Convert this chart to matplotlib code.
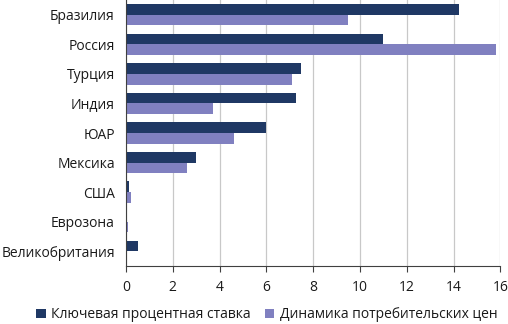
import matplotlib
matplotlib.use('Agg')
import matplotlib.pyplot as plt
import numpy as np

# Данные с графика
countries = ['Бразилия', 'Россия', 'Турция', 'Индия', 'ЮАР', 'Мексика',
             'США', 'Еврозона', 'Великобритания']
key_rate = [14.25, 11.0, 7.5, 7.25, 6.0, 3.0, 0.125, 0.05, 0.5]
cpi = [9.5, 15.8, 7.1, 3.7, 4.6, 2.6, 0.2, 0.1, 0.0]

dark = '#1f3864'
light = '#8080c0'

plt.rcParams['font.family'] = ['Open Sans', 'DejaVu Sans']
plt.rcParams['font.size'] = 10

fig = plt.figure(figsize=(5.08, 3.24), dpi=100)
ax = fig.add_axes([0.248, 0.179, 0.737, 0.821])

y = np.arange(len(countries))
h = 0.36
ax.barh(y - h / 2, key_rate, height=h, color=dark, label='Ключевая процентная ставка')
ax.barh(y + h / 2, cpi, height=h, color=light, label='Динамика потребительских цен')

ax.set_ylim(len(countries) - 0.5, -0.5)
ax.set_xlim(0, 16)
ax.set_xticks(range(0, 17, 2))
ax.set_yticks(y)
ax.set_yticklabels(countries)
ax.tick_params(axis='y', length=0, pad=8, labelsize=10, labelcolor='#1a1a1a')
ax.tick_params(axis='x', length=4, direction='out', color='#404040', labelsize=10,
               pad=6, labelcolor='#1a1a1a')

ax.set_axisbelow(True)
ax.grid(True, axis='x', color='#c8c8c8', linewidth=0.9)
for s in ['top', 'right']:
    ax.spines[s].set_visible(False)
ax.spines['left'].set_color('#404040')
ax.spines['bottom'].set_color('#404040')

fig.legend(loc='center', bbox_to_anchor=(0.525, 0.028), ncol=2, frameon=False,
           handlelength=0.7, handleheight=0.7, handletextpad=0.4, columnspacing=1.0,
           fontsize=10, labelcolor='#1a1a1a')

fig.savefig('out.png', dpi=100)
